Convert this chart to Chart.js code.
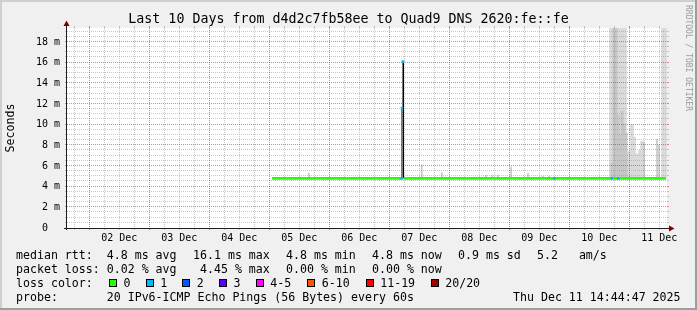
<!DOCTYPE html>
<html>
<head>
<meta charset="utf-8">
<script src="https://cdn.jsdelivr.net/npm/chart.js@4.4.1/dist/chart.umd.min.js"></script>
<style>
  html, body { margin: 0; padding: 0; background: #f0f0f0; }
  #wrap { position: relative; width: 697px; height: 310px; overflow: hidden; }
  #wrap canvas { position: absolute; left: 0; top: 0; }
  .txt { position: absolute; font-family: "DejaVu Sans Mono", monospace; color: #000; white-space: pre; }
  #title { left: 0; width: 697px; text-align: center; top: 11px; font-size: 13.3px; line-height: 16px; }
  #mark { left: 693px; top: 5px; font-size: 8px; line-height: 9px; color: #9a9a9a; transform: rotate(90deg); transform-origin: 0 0; }
  .leg { font-size: 11.6px; line-height: 14px; }
  .box { position: absolute; width: 6px; height: 6px; border: 1px solid #000; }
</style>
</head>
<body>
<div id="wrap">
  <canvas id="chart" width="697" height="310"></canvas>
  <div class="txt" id="title">Last 10 Days from d4d2c7fb58ee to Quad9 DNS 2620:fe::fe</div>
  <div class="txt" id="mark">RRDTOOL / TOBI OETIKER</div>
</div>
<script>
// time axis: hours since 01 Dec 00:00
const xTickHours = [36, 60, 84, 108, 132, 156, 180, 204, 228, 252];
const xTickLabels = ['02 Dec', '03 Dec', '04 Dec', '05 Dec', '06 Dec', '07 Dec', '08 Dec', '09 Dec', '10 Dec', '11 Dec'];
const yTickValues = [0, 2, 4, 6, 8, 10, 12, 14, 16, 18];
const yTickLabels = ['0  ', '2 m', '4 m', '6 m', '8 m', '10 m', '12 m', '14 m', '16 m', '18 m'];

// median rtt (ms)
const medianTimes = [97.1, 148.9, 149.1, 149.5, 149.7, 254.7];
const medianValues = [4.8, 4.8, 11.6, 16.1, 4.8, 4.8];

// samples with 1/20 loss
const lossTimes = [148.95, 149.1, 149.5, 210.0, 233.0, 235.6];
const lossValues = [4.8, 11.6, 16.1, 4.8, 4.8, 4.8];

// smoke (ping spread), light shade
const smokeTimes = [232.7, 233.5, 234.3, 235.1, 235.9, 236.7, 237.5, 238.3,
  239.5, 240.3, 241.1, 241.9, 242.7, 243.5, 244.3, 245.1, 253.5, 254.3];
const smokeLow = [4.8, 4.8, 4.8, 4.8, 4.8, 4.8, 4.8, 4.8,
  4.8, 4.8, 4.8, 4.8, 4.8, 4.8, 4.8, 4.8, 4.8, 4.8];
const smokeHigh = [20, 20, 20, 20, 20, 20, 20, 20,
  7.4, 7.4, 10.0, 8.8, 7.2, 7.0, 7.5, 8.4, 20, 20];

// smoke, darker shade
const darkSmokeTimes = [233.1, 233.9, 234.7, 235.5, 236.3, 237.1, 237.9, 238.7];
const darkSmokeLow = [4.8, 4.8, 4.8, 4.8, 4.8, 4.8, 4.8, 4.8];
const darkSmokeHigh = [6.3, 20, 20, 10.9, 9.0, 11.3, 10.0, 9.2];

// single thin smoke columns
const thinSmokeTimes = [111.9, 157.0, 165.0, 182.7, 185.1, 187.5, 192.7, 199.5, 205.5, 207.9, 245.9, 251.1, 251.9];
const thinSmokeLow = [4.8, 4.8, 4.8, 4.8, 4.8, 4.8, 4.8, 4.8, 4.8, 4.8, 4.8, 4.8, 4.8];
const thinSmokeHigh = [5.3, 6.1, 5.35, 5.1, 5.1, 5.1, 5.9, 5.3, 5.0, 5.0, 8.3, 8.6, 8.0];

// legend
const rttStats = ['median rtt:  4.8 ms avg', '16.1 ms max', '4.8 ms min', '4.8 ms now', '0.9 ms sd', '5.2   am/s'];
const lossStats = ['packet loss: 0.02 % avg', '4.45 % max', '0.00 % min', '0.00 % now'];
const colorLabel = 'loss color:';
const lossColorLabels = ['0', '1', '2', '3', '4-5', '6-10', '11-19', '20/20'];
const probeText = 'probe:       20 IPv6-ICMP Echo Pings (56 Bytes) every 60s';
const stampText = 'Thu Dec 11 14:44:47 2025';

const lossColors = ['#26ff00', '#00b8ff', '#0059ff', '#5e00ff', '#ff00ff', '#ff5500', '#ff0000', '#a00000'];
const mono = 'DejaVu Sans Mono';

function pts(t, v) { return t.map((x, i) => ({ x: x, y: v[i] })); }
function bars(t, lo, hi) { return t.map((x, i) => ({ x: x, y: [lo[i], hi[i]] })); }

function drawGrid(chart) {
  const { ctx, chartArea: a, scales: { x, y } } = chart;
  const L = a.left, R = a.right, T = a.top, B = a.bottom;
  ctx.save();
  ctx.lineWidth = 1;
  const minor = 'rgba(143,143,143,0.5)';
  const major = 'rgba(222,0,0,0.5)';
  const hLine = (v, col, dash) => {
    const p = Math.round(y.getPixelForValue(v)) - 0.5;
    ctx.strokeStyle = col;
    ctx.setLineDash(dash);
    ctx.beginPath(); ctx.moveTo(L, p); ctx.lineTo(R, p); ctx.stroke();
    ctx.setLineDash([]);
    ctx.beginPath(); ctx.moveTo(L - 2, p); ctx.lineTo(L, p); ctx.moveTo(R, p); ctx.lineTo(R + 2, p); ctx.stroke();
  };
  const vLine = (h, col, dash) => {
    const p = Math.floor(x.getPixelForValue(h)) + 0.5;
    ctx.strokeStyle = col;
    ctx.setLineDash(dash);
    ctx.beginPath(); ctx.moveTo(p, T); ctx.lineTo(p, B); ctx.stroke();
    ctx.setLineDash([]);
    ctx.beginPath(); ctx.moveTo(p, B); ctx.lineTo(p, B + 2); ctx.moveTo(p, T - 2); ctx.lineTo(p, T); ctx.stroke();
  };
  for (let i = 1; i * 0.5 <= y.max; i++) if (i % 4) hLine(i * 0.5, minor, [1, 1]);
  for (let h = 18; h < x.max; h += 6) if (h % 24) vLine(h, minor, [1, 1]);
  for (let i = 1; i * 2 <= y.max; i++) hLine(i * 2, major, [1, 1]);
  for (let h = 24; h < x.max; h += 24) vLine(h, major, [1, 1]);
  ctx.restore();
}

const rrdLook = {
  id: 'rrdLook',
  beforeDraw(chart) {
    const { ctx, chartArea: a, width, height } = chart;
    ctx.save();
    ctx.fillStyle = '#f0f0f0'; ctx.fillRect(0, 0, width, height);
    ctx.fillStyle = '#cfcfcf'; ctx.fillRect(0, 0, width, 2); ctx.fillRect(0, 0, 2, height);
    ctx.fillStyle = '#9e9e9e'; ctx.fillRect(0, height - 2, width, 2); ctx.fillRect(width - 2, 0, 2, height);
    ctx.fillStyle = '#ffffff'; ctx.fillRect(a.left, a.top, a.right - a.left, a.bottom - a.top);
    ctx.restore();
  },
  beforeDatasetDraw(chart, args) {
    if (args.index === 1) drawGrid(chart); // grid goes over the smoke, under the median line
  },
  afterDatasetsDraw(chart) {
    const { ctx, chartArea: a } = chart;
    ctx.save();
    ctx.strokeStyle = '#1f1f1f'; ctx.lineWidth = 1;
    ctx.beginPath();
    ctx.moveTo(a.left - 0.5, a.bottom + 2); ctx.lineTo(a.left - 0.5, a.top - 4);
    ctx.moveTo(a.left - 3, a.bottom + 0.5); ctx.lineTo(a.right + 3, a.bottom + 0.5);
    ctx.stroke();
    ctx.fillStyle = '#7f0000';
    ctx.beginPath();
    ctx.moveTo(a.left - 3.5, a.top - 2); ctx.lineTo(a.left + 2.5, a.top - 2); ctx.lineTo(a.left - 0.5, a.top - 7.5); ctx.closePath();
    ctx.fill();
    ctx.beginPath();
    ctx.moveTo(a.right + 2, a.bottom - 2.5); ctx.lineTo(a.right + 2, a.bottom + 3.5); ctx.lineTo(a.right + 7.5, a.bottom + 0.5); ctx.closePath();
    ctx.fill();
    ctx.restore();
  }
};

new Chart(document.getElementById('chart'), {
  type: 'line',
  data: {
    datasets: [
      {
        type: 'scatter', data: pts(lossTimes, lossValues), order: 0,
        pointStyle: 'rect', pointRadius: 1.8, backgroundColor: lossColors[1], borderWidth: 0
      },
      {
        type: 'line', data: pts(medianTimes, medianValues), order: 1,
        borderColor: lossColors[0], borderWidth: 2.6, pointRadius: 0, stepped: true,
        segment: {
          borderColor: c => (c.p0.parsed.y > 5 || c.p1.parsed.y > 5) ? '#000000' : undefined,
          borderWidth: c => (c.p0.parsed.y > 5 || c.p1.parsed.y > 5) ? 1 : undefined
        }
      },
      {
        type: 'bar', data: bars(thinSmokeTimes, thinSmokeLow, thinSmokeHigh), order: 2,
        backgroundColor: '#c8c8c8', barThickness: 1, grouped: false, clip: 0
      },
      {
        type: 'bar', data: bars(darkSmokeTimes, darkSmokeLow, darkSmokeHigh), order: 3,
        backgroundColor: '#c6c6c6', barThickness: 2.4, grouped: false, clip: 0
      },
      {
        type: 'bar', data: bars(smokeTimes, smokeLow, smokeHigh), order: 4,
        backgroundColor: '#dadada', barThickness: 3, grouped: false, clip: 0
      }
    ]
  },
  options: {
    responsive: false,
    animation: false,
    events: [],
    layout: { padding: { left: 0, top: 28, right: 30, bottom: 62 } },
    plugins: { legend: { display: false }, tooltip: { enabled: false } },
    scales: {
      x: {
        type: 'linear', min: 15.1, max: 255.1, offset: false,
        grid: { display: false, drawTicks: false }, border: { display: false },
        afterFit: s => { s.height = 20; },
        afterBuildTicks: s => { s.ticks = xTickHours.map(v => ({ value: v })); },
        ticks: {
          autoSkip: false, maxRotation: 0, padding: 4, color: '#000',
          font: { family: mono, size: 10 },
          callback: (v, i) => xTickLabels[i]
        }
      },
      y: {
        type: 'linear', min: 0, max: 19.35,
        grid: { display: false, drawTicks: false }, border: { display: false },
        afterFit: s => { s.width = 67; },
        afterBuildTicks: s => { s.ticks = yTickValues.map(v => ({ value: v })); },
        ticks: {
          autoSkip: false, padding: 7, color: '#000',
          font: { family: mono, size: 10 },
          callback: (v, i) => yTickLabels[i]
        },
        title: {
          display: true, text: 'Seconds', color: '#000',
          font: { family: mono, size: 11.6 }, padding: { top: 4, bottom: 0 }
        }
      }
    }
  },
  plugins: [rrdLook]
});

// legend lines below the plot
const wrap = document.getElementById('wrap');
const lineTop = [247.5, 261.5, 275.5, 289.5];
function put(text, x, row) {
  const d = document.createElement('div');
  d.className = 'txt leg';
  d.textContent = text;
  d.style.left = x + 'px';
  d.style.top = lineTop[row] + 'px';
  wrap.appendChild(d);
}
const rttX = [16, 193, 286, 372, 458, 537];
const lossX = [16, 200, 286, 372];
const boxX = [109, 145.7, 182.3, 219, 255.7, 307.3, 365.7, 430.7];

rttStats.forEach((s, i) => put(s, rttX[i], 0));
lossStats.forEach((s, i) => put(s, lossX[i], 1));
put(colorLabel, 16, 2);
lossColorLabels.forEach((s, i) => {
  const b = document.createElement('div');
  b.className = 'box';
  b.style.left = boxX[i] + 'px';
  b.style.top = '278.5px';
  b.style.background = lossColors[i];
  wrap.appendChild(b);
  put(s, boxX[i] + 14.5, 2);
});
put(probeText, 16, 3);
put(stampText, 513, 3);
</script>
</body>
</html>
